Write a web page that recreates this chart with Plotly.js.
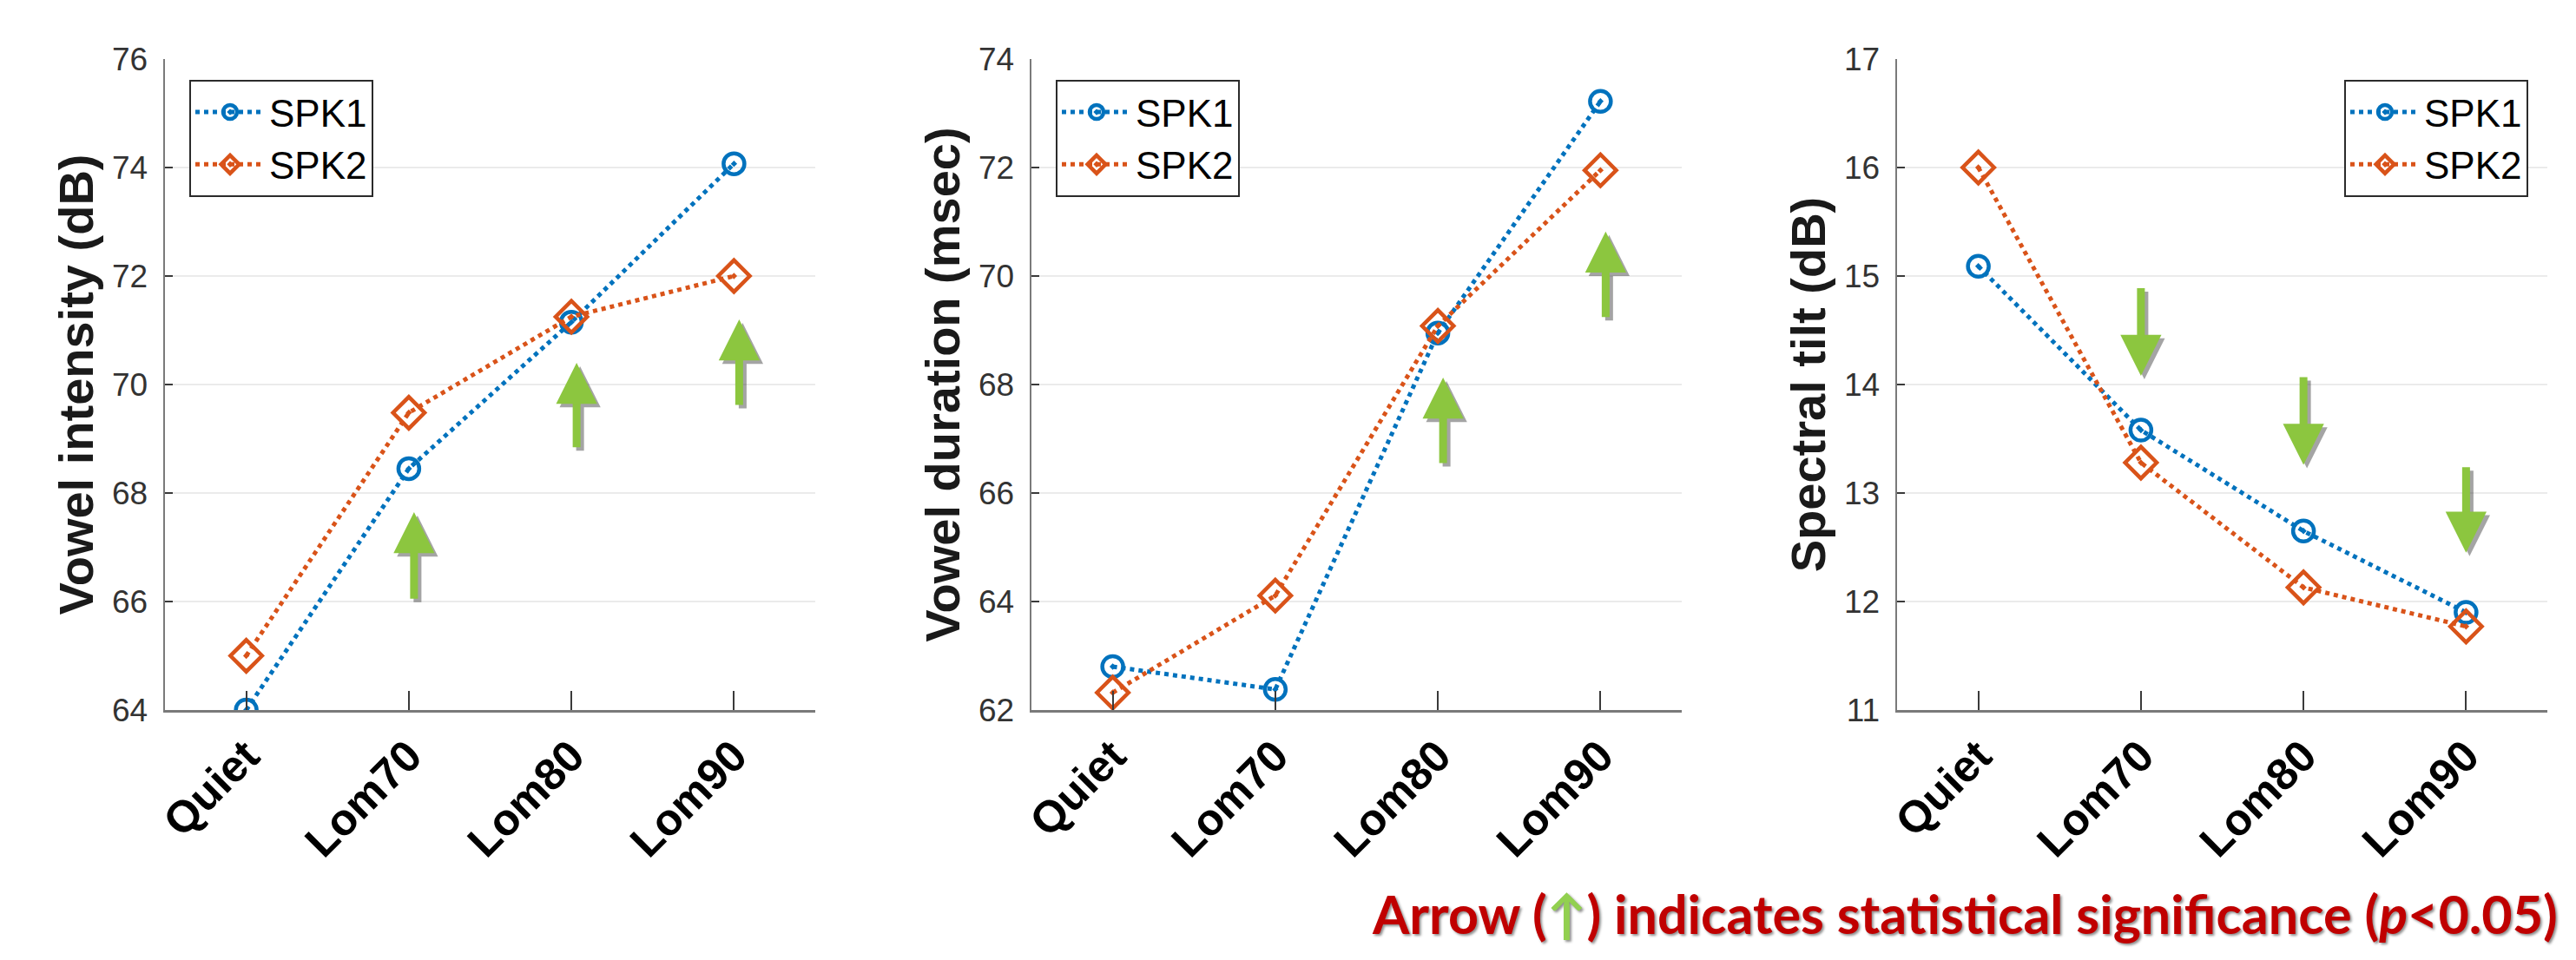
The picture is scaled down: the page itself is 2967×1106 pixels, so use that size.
<!DOCTYPE html>
<html><head><meta charset="utf-8">
<script src="https://cdn.plot.ly/plotly-3.0.1.min.js"></script>
<style>html,body{margin:0;padding:0;background:#fff;overflow:hidden}#chart{width:2967px;height:1106px}</style>
</head><body><div id="chart"></div>
<script>
// ---------- data ----------
const conditions = ['Quiet', 'Lom70', 'Lom80', 'Lom90'];
const seriesNames = ['SPK1', 'SPK2'];

const intensitySPK1 = [64.0, 68.45, 71.15, 74.07];
const intensitySPK2 = [65.0, 69.48, 71.25, 72.0];

const durationSPK1 = [62.8, 62.38, 68.95, 73.22];
const durationSPK2 = [62.32, 64.11, 69.08, 71.95];

const tiltSPK1 = [15.09, 13.58, 12.65, 11.9];
const tiltSPK2 = [16.0, 13.28, 12.13, 11.77];

const yTitles = ['Vowel intensity (dB)', 'Vowel duration (msec)', 'Spectral tilt (dB)'];

// significance arrows: [condition, arrow start value, arrow tip value]
const intensityArrows = [['Lom70', 66.03, 67.65], ['Lom80', 68.82, 70.4], ['Lom90', 69.6, 71.2]];
const durationArrows = [['Lom80', 66.53, 68.13], ['Lom90', 69.22, 70.82]];
const tiltArrows = [['Lom70', 14.9, 14.08], ['Lom80', 14.08, 13.26], ['Lom90', 13.25, 12.45]];

const footnoteText = 'Arrow (<span style="color:#92D050">↑</span>) indicates statistical significance (<i>p</i>&lt;0.05)';

// ---------- styling ----------
const W = 2967, H = 1106;
const BLUE = '#0072BD', ORANGE = '#D95319', GREEN = '#8CC63F';
const px = (a, b) => [a / W, b / W];
const xDomains = [px(190, 939), px(1188, 1937), px(2185, 2934)];
const yDomain = [1 - 818 / H, 1 - 68 / H];
const yRanges = [[64, 76], [62, 74], [11, 17]];
const yDticks = [2, 2, 1];
const panelData = [
  [intensitySPK1, intensitySPK2],
  [durationSPK1, durationSPK2],
  [tiltSPK1, tiltSPK2]
];
const panelArrows = [intensityArrows, durationArrows, tiltArrows];
const arrowShift = [6, 6, 0];
const legendPos = [
  {x: 218 / W, xanchor: 'left'},
  {x: 1216 / W, xanchor: 'left'},
  {x: 2912 / W, xanchor: 'right'}
];

const traces = [];
const layout = {
  width: W, height: H,
  margin: {l: 0, r: 0, t: 0, b: 0},
  paper_bgcolor: '#fff', plot_bgcolor: '#fff',
  font: {family: 'Liberation Sans, Arial, sans-serif', color: '#262626'},
  showlegend: true,
  annotations: []
};

panelData.forEach((pair, i) => {
  const n = i === 0 ? '' : String(i + 1);
  const legName = 'legend' + n;
  pair.forEach((vals, k) => {
    traces.push({
      type: 'scatter', mode: 'lines+markers',
      x: conditions, y: vals, name: seriesNames[k],
      xaxis: 'x' + n, yaxis: 'y' + n, legend: legName,
      line: {color: k === 0 ? BLUE : ORANGE, width: 5, dash: 'dot'},
      marker: {
        symbol: k === 0 ? 'circle-open-dot' : 'diamond-open-dot',
        size: k === 0 ? 24 : 28,
        color: k === 0 ? BLUE : ORANGE,
        line: {width: 4.5, color: k === 0 ? BLUE : ORANGE}
      }
    });
  });
  layout['xaxis' + n] = {
    domain: xDomains[i], anchor: 'y' + n,
    type: 'category', range: [-0.5, 3.5],
    showgrid: false, zeroline: false,
    showline: true, linecolor: '#7a7a7a', linewidth: 2.5,
    ticks: 'inside', ticklen: 22, tickwidth: 2, tickcolor: '#3a3a3a',
    tickangle: -45,
    tickfont: {family: 'Liberation Sans, Arial, sans-serif', size: 51, weight: 'bold', color: '#000'},
    fixedrange: true
  };
  layout['yaxis' + n] = {
    domain: yDomain, anchor: 'x' + n,
    range: yRanges[i], dtick: yDticks[i], tick0: yRanges[i][0],
    showgrid: true, gridcolor: '#ebebeb', gridwidth: 2,
    zeroline: false,
    showline: true, linecolor: '#7a7a7a', linewidth: 2.5,
    ticks: 'inside', ticklen: 9, tickwidth: 2, tickcolor: '#3a3a3a',
    ticklabelstandoff: 10,
    tickfont: {family: 'Liberation Sans, Arial, sans-serif', size: 37, color: '#333'},
    title: {text: yTitles[i], standoff: 4,
      font: {family: 'Liberation Sans, Arial, sans-serif', size: 56, weight: 'bold', color: '#1a1a1a'}},
    fixedrange: true
  };
  layout[legName] = {
    x: legendPos[i].x, xanchor: legendPos[i].xanchor,
    y: 1 - 92 / H, yanchor: 'top',
    bgcolor: '#fff', bordercolor: '#2b2b2b', borderwidth: 2,
    font: {family: 'Liberation Sans, Arial, sans-serif', size: 44, color: '#000'},
    tracegroupgap: 0, itemsizing: 'trace', itemwidth: 80
  };
  panelArrows[i].forEach(a => {
    const xi = conditions.indexOf(a[0]);
    const base = {
      xref: 'x' + n, yref: 'y' + n, axref: 'x' + n, ayref: 'y' + n,
      x: xi, y: a[2], ax: xi, ay: a[1],
      text: '', showarrow: true, arrowhead: 2, arrowsize: 1.05,
      arrowwidth: 9, standoff: 0, startstandoff: 0
    };
    layout.annotations.push(Object.assign({}, base, {
      arrowcolor: 'rgba(30,30,30,0.4)', xshift: arrowShift[i] + 4, yshift: -4
    }));
    layout.annotations.push(Object.assign({}, base, {
      arrowcolor: GREEN, xshift: arrowShift[i]
    }));
  });
});

layout.annotations.push({
  xref: 'paper', yref: 'paper', x: 1578 / W, y: 1 - 1052 / H,
  xanchor: 'left', yanchor: 'middle', showarrow: false,
  text: footnoteText,
  font: {family: 'Lato, Open Sans, sans-serif', size: 61, weight: 'bold', color: '#C00000',
    shadow: '2px 2px 3px rgba(0,0,0,0.45)'}
});

Plotly.newPlot('chart', traces, layout, {staticPlot: true, displayModeBar: false});
</script>
</body></html>
